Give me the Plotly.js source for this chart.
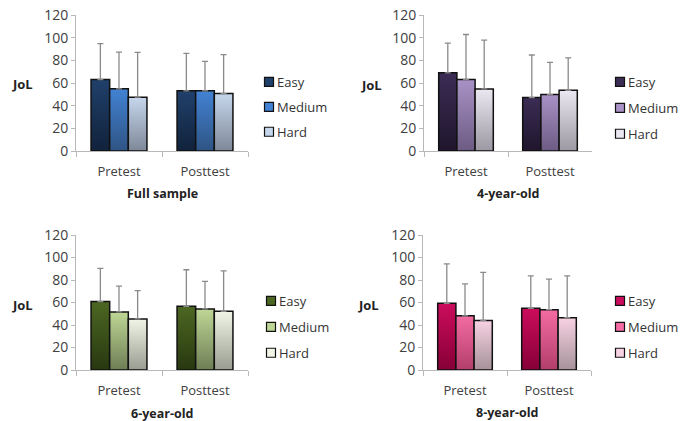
<!DOCTYPE html>
<html>
<head>
<meta charset="utf-8">
<script src="https://cdn.plot.ly/plotly-3.0.1.min.js"></script>
<style>
  html, body { margin: 0; padding: 0; background: #fff; }
  #chart { width: 690px; height: 421px; }
</style>
</head>
<body>
<div id="chart"></div>
<script>
// ---- Data ----
var categories = ['Pretest', 'Posttest'];
var levels = ['Easy', 'Medium', 'Hard'];
var panelTitles = ['Full sample', '4-year-old', '6-year-old', '8-year-old'];
var yTitle = 'JoL';

// Means [Pretest, Posttest]
var fullEasy = [63.1, 53.1];
var fullMedium = [54.9, 53.1];
var fullHard = [47.5, 50.7];
var age4Easy = [69.0, 47.1];
var age4Medium = [63.1, 49.8];
var age4Hard = [54.8, 53.6];
var age6Easy = [60.8, 56.6];
var age6Medium = [51.6, 54.3];
var age6Hard = [45.4, 52.2];
var age8Easy = [59.3, 54.8];
var age8Medium = [48.2, 53.6];
var age8Hard = [44.1, 46.5];

// Upper error bars (SD) [Pretest, Posttest]
var fullEasySD = [31.6, 33.0];
var fullMediumSD = [32.4, 26.0];
var fullHardSD = [39.5, 34.3];
var age4EasySD = [26.1, 37.6];
var age4MediumSD = [39.7, 28.4];
var age4HardSD = [43.0, 28.5];
var age6EasySD = [29.5, 32.5];
var age6MediumSD = [23.0, 24.5];
var age6HardSD = [25.1, 36.0];
var age8EasySD = [35.1, 28.9];
var age8MediumSD = [28.3, 27.1];
var age8HardSD = [42.6, 37.2];

// ---- Styling ----
var W = 690, H = 421;
var FONT = '"Open Sans", "Noto Sans", sans-serif';
function fx(px) { return px / W; }
function fy(py) { return 1 - py / H; }

var panels = [
  { means: [fullEasy, fullMedium, fullHard], sds: [fullEasySD, fullMediumSD, fullHardSD],
    top: ['#20406b', '#4282d3', '#c6d6ec'], bottom: ['#11223b', '#2f5484', '#7e8898'],
    xd: [76, 248], yd: [151, 15], titlePos: [162, 193], jolPos: [22, 84], legPos: [237, 67], gap: 5 },
  { means: [age4Easy, age4Medium, age4Hard], sds: [age4EasySD, age4MediumSD, age4HardSD],
    top: ['#3b2c54', '#a992c6', '#ece8f2'], bottom: ['#1f162d', '#6c5b83', '#9c98a3'],
    xd: [424, 592], yd: [151, 15], titlePos: [508, 193], jolPos: [371, 85], legPos: [588, 67], gap: 6 },
  { means: [age6Easy, age6Medium, age6Hard], sds: [age6EasySD, age6MediumSD, age6HardSD],
    top: ['#4c6722', '#bed695', '#f1f5e7'], bottom: ['#283810', '#6e7e55', '#999d91'],
    xd: [76, 248], yd: [370, 235], titlePos: [162, 413], jolPos: [22, 305], legPos: [239, 286], gap: 6 },
  { means: [age8Easy, age8Medium, age8Hard], sds: [age8EasySD, age8MediumSD, age8HardSD],
    top: ['#cc0c5c', '#f46ca2', '#f7d2e2'], bottom: ['#860037', '#b23e6b', '#a6929a'],
    xd: [423, 591], yd: [370, 235], titlePos: [507, 412], jolPos: [368, 305], legPos: [588, 286], gap: 6 }
];

var data = [];
var gradients = [];
var layout = {
  width: W, height: H,
  margin: { l: 0, r: 0, t: 0, b: 0 },
  paper_bgcolor: '#fff', plot_bgcolor: 'rgba(0,0,0,0)',
  font: { family: FONT, size: 13, color: '#333' },
  barmode: 'group', bargap: 0.35, bargroupgap: 0,
  annotations: [],
  showlegend: true
};

panels.forEach(function (p, i) {
  var n = i + 1;
  var xa = n === 1 ? 'x' : 'x' + n;
  var ya = n === 1 ? 'y' : 'y' + n;
  var lg = n === 1 ? 'legend' : 'legend' + n;
  levels.forEach(function (lev, k) {
    gradients.push([p.top[k], p.bottom[k]]);
    data.push({
      type: 'bar', name: lev, x: categories, y: p.means[k],
      xaxis: xa, yaxis: ya, legend: lg, legendgroup: 'g' + n + k,
      marker: { color: p.top[k], line: { color: '#111', width: 1.5 } },
      error_y: { type: 'data', symmetric: false, array: p.sds[k], arrayminus: [0, 0],
                 color: '#8a8a8a', thickness: 1.3, width: 3 },
      hoverinfo: 'skip'
    });
  });
  layout[n === 1 ? 'xaxis' : 'xaxis' + n] = {
    domain: [fx(p.xd[0]), fx(p.xd[1])], anchor: ya,
    type: 'category', showgrid: false, zeroline: false,
    showline: true, linecolor: '#b8b8b8', linewidth: 1,
    ticks: 'outside', tickson: 'boundaries', ticklen: 5, tickcolor: '#b8b8b8',
    ticklabelstandoff: 8,
    tickfont: { family: FONT, size: 13, color: '#404040' }, fixedrange: true
  };
  layout[n === 1 ? 'yaxis' : 'yaxis' + n] = {
    domain: [fy(p.yd[0]), fy(p.yd[1])], anchor: xa,
    range: [0, 120], dtick: 20, showgrid: false, zeroline: false,
    showline: true, linecolor: '#b8b8b8', linewidth: 1,
    ticks: 'outside', ticklen: 4, tickcolor: '#b8b8b8',
    tickfont: { family: FONT, size: 14, color: '#404040' }, fixedrange: true
  };
  layout[lg] = {
    x: fx(p.legPos[0]), y: fy(p.legPos[1]), xanchor: 'left', yanchor: 'top',
    xref: 'paper', yref: 'paper',
    bgcolor: 'rgba(0,0,0,0)', borderwidth: 0,
    font: { family: FONT, size: 13, color: '#333' },
    tracegroupgap: p.gap, itemwidth: 30, traceorder: 'grouped'
  };
  layout.annotations.push({
    text: '<b>' + panelTitles[i] + '</b>', xref: 'paper', yref: 'paper',
    x: fx(p.titlePos[0]), y: fy(p.titlePos[1]), xanchor: 'center', yanchor: 'middle',
    showarrow: false, font: { family: FONT, size: 12.5, color: '#222' }
  });
  layout.annotations.push({
    text: '<b>' + yTitle + '</b>', xref: 'paper', yref: 'paper',
    x: fx(p.jolPos[0]), y: fy(p.jolPos[1]), xanchor: 'center', yanchor: 'middle',
    showarrow: false, font: { family: FONT, size: 13, color: '#222' }
  });
});

function decorate(gd) {
  var NS = 'http://www.w3.org/2000/svg';
  var svg = gd.querySelector('.main-svg');
  var defs = svg.querySelector('defs');
  if (!defs) { defs = document.createElementNS(NS, 'defs'); svg.insertBefore(defs, svg.firstChild); }
  gradients.forEach(function (g, idx) {
    if (document.getElementById('bargrad' + idx)) return;
    var lgEl = document.createElementNS(NS, 'linearGradient');
    lgEl.setAttribute('id', 'bargrad' + idx);
    lgEl.setAttribute('x1', '0'); lgEl.setAttribute('y1', '0');
    lgEl.setAttribute('x2', '0'); lgEl.setAttribute('y2', '1');
    [[0, g[0]], [1, g[1]]].forEach(function (s) {
      var st = document.createElementNS(NS, 'stop');
      st.setAttribute('offset', s[0]);
      st.setAttribute('stop-color', s[1]);
      lgEl.appendChild(st);
    });
    defs.appendChild(lgEl);
  });
  gd.querySelectorAll('.barlayer .trace').forEach(function (tr) {
    var cd = tr.__data__;
    if (!cd || !cd[0] || !cd[0].trace) return;
    var idx = cd[0].trace.index;
    tr.querySelectorAll('.point path').forEach(function (path) {
      path.style.fill = 'url(#bargrad' + idx + ')';
    });
  });
  gd.querySelectorAll('.legendpoints path').forEach(function (path) {
    path.setAttribute('d', 'M4.5,4.5H-4.5V-4.5H4.5Z');
    path.setAttribute('transform', 'translate(32,0)');
    path.style.strokeWidth = '1.2px';
  });
}

Plotly.newPlot('chart', data, layout, { displayModeBar: false, staticPlot: true }).then(function (gd) {
  decorate(gd);
  setTimeout(function () { decorate(gd); }, 50);
});
</script>
</body>
</html>
